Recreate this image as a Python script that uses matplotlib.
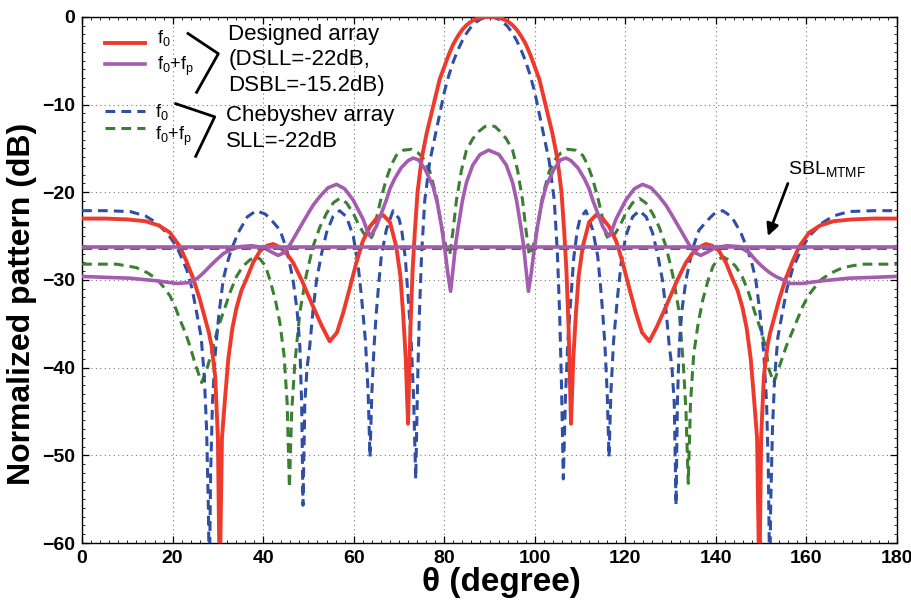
import matplotlib
matplotlib.use("Agg")
import matplotlib.pyplot as plt
from matplotlib.ticker import MultipleLocator

plt.rcParams['font.family'] = ['Liberation Sans', 'DejaVu Sans']
plt.rcParams['mathtext.default'] = 'regular'

# ---------------- data ----------------
# Designed array, f0 (red)
red_theta = [0, 5, 10, 14, 17, 19.4, 21.6, 23, 24.6, 26, 26.8, 28, 28.6, 29.4, 30.0, 30.4, 30.9, 31.5, 32.3, 33.2,
             34.1, 35.2, 36.3, 37.8, 39.3, 40.8, 42.2, 43.8, 45.2, 46.6, 48.5, 51, 53, 54.7, 56.3, 57.7, 59.2, 60.6,
             62, 63.6, 65, 66.5, 68, 69.4, 70.3, 70.9, 71.5, 72.0, 72.5, 73.0, 73.5, 74.1, 75, 76.1, 77.5, 79, 80,
             81, 82, 83, 84, 85, 86, 87, 88, 89, 90,
             91, 92, 93, 94, 95, 96, 97, 98, 99, 100, 101, 102.5, 103.9, 105, 105.9, 106.5, 107, 107.5, 108, 108.5,
             109.1, 109.7, 110.6,
             112, 113.5, 115, 116.4, 118, 119.4, 120.8, 122.3, 123.7, 125.3, 127, 129, 131.5, 133.4, 134.8, 136.2,
             137.8, 139.2, 140.7, 142.2, 143.7, 144.8, 145.9, 146.8, 147.7, 148.5, 149.1, 149.6, 150, 150.6, 151.4,
             152, 153.2, 154, 155.4, 157, 158.4, 160.6, 163, 166, 170, 175, 180]
red_db = [-23.0, -23.0, -23.1, -23.3, -23.8, -24.6, -26.2, -27.8, -29.9, -32.2, -33.7, -36.0, -37.5, -41, -48, -65,
          -48, -44, -39, -35.5, -33.2, -31.2, -29.9, -28, -26.7, -26.1, -25.9, -26.3, -27.0, -28, -30, -33, -35.3,
          -37, -36, -33.7, -30.8, -28, -25.6, -23.9, -23.0, -22.6, -23.4, -26.2, -29.5, -33.7, -39, -46.4, -36, -29,
          -24.5, -20, -16.2, -13.3, -10.3, -7.1, -5.7, -4.3, -3.1, -2.2, -1.45, -0.9, -0.5, -0.25, -0.1, -0.02, 0,
          -0.02, -0.1, -0.25, -0.5, -0.9, -1.45, -2.2, -3.1, -4.3, -5.7, -7.1, -10.3, -13.3, -16.2, -20, -24.5, -29,
          -36, -46.4, -39, -33.7, -29.5, -26.2,
          -23.4, -22.6, -23.0, -23.9, -25.6, -28, -30.8, -33.7, -36, -37, -35.3, -33, -30, -28, -27.0, -26.3,
          -25.9, -26.1, -26.7, -28, -29.9, -31.2, -33.2, -35.5, -39, -44, -48, -65, -48, -41, -37.5, -36, -33.7,
          -32.2, -29.9, -27.8, -26.2, -24.6, -23.8, -23.3, -23.1, -23.0, -23.0]

# Designed array, f0+fp (purple)
pur_theta = [0, 5, 10.6, 16.5, 20.9, 23.8, 25.5, 26.8, 28.3, 29.7, 31.2, 32.6, 34.9, 37.5, 40, 41.8, 43.3, 44.6,
             45.9, 47.8, 49.6, 51, 52.5, 54.3, 56.2, 58, 59.9, 61, 62.1, 63, 63.6, 64.2, 65, 66.1, 67.2, 68, 69.1,
             70.5, 72, 73.1, 74.3, 75.8, 77.5, 78.5, 79.4, 80.2, 80.8, 81.4, 82.0, 82.5, 83.1, 84, 84.9, 86.3, 87.9,
             89.8,
             92.1, 93.7, 95.1, 96, 96.9, 97.5, 98.0, 98.6, 99.2, 99.8, 100.6, 101.5, 102.5, 104.2, 105.7, 106.9, 108,
             109.5, 110.9, 112, 112.8, 113.9, 115, 115.8, 116.4, 117, 117.9, 119, 120.1, 122, 123.8, 125.7, 127.5,
             129, 130.4, 132.2, 134.1, 135.4, 136.7, 138.2, 140, 142.5, 145.1, 147.4, 148.9, 150.3, 151.7, 153.2,
             154.5, 156.3, 159.1, 163.5, 169.4, 175, 180]
pur_db = [-29.6, -29.7, -29.8, -30.1, -30.4, -30.3, -29.8, -29.2, -28.4, -27.7, -27.0, -26.6, -26.2, -26.1, -26.3,
          -26.8, -27.2, -26.9, -26.0, -24.3, -22.7, -21.5, -20.5, -19.5, -19.1, -19.6, -20.9, -22.0, -23.1, -24.4,
          -25.0, -24.6, -23.9, -22.4, -20.9, -19.6, -18.4, -17.2, -16.4, -16.1, -16.3, -17.4, -19.3, -21.3, -23.9,
          -26.8, -29.3, -31.3, -28.5, -26.0, -23.9, -21.0, -18.9, -16.9, -15.7, -15.2,
          -15.7, -16.9, -18.9, -21.0, -23.9, -26.0, -28.5, -31.3, -29.3, -26.8, -23.9, -21.3, -19.3, -17.4, -16.3,
          -16.1, -16.4, -17.2, -18.4, -19.6, -20.9, -22.4, -23.9, -24.6, -25.0, -24.4, -23.1, -22.0, -20.9, -19.6,
          -19.1, -19.5, -20.5, -21.5, -22.7, -24.3, -26.0, -26.9, -27.2, -26.8, -26.3, -26.1, -26.2, -26.9, -27.8,
          -28.5, -29.1, -29.6, -29.9, -30.4, -30.4, -30.1, -29.8, -29.7, -29.6]

# Chebyshev array, f0 (blue dashed)
blu_theta = [0, 5, 10.6, 14, 16.5, 19, 20.9, 23.1, 24.3, 25.3, 26.3, 27.0, 27.5, 27.9, 28.1, 28.4, 28.8, 29.4, 30.2,
             31.2, 32.1, 33, 34.5, 36.5, 38.5, 40.5, 42.2, 43.7, 45.2, 46.6, 47.5, 48.1, 48.5, 48.8, 49.2, 49.7, 50.3,
             51, 51.8, 52.9, 54, 55.4, 56.9, 58.4, 59.9, 60.9, 61.7, 62.6, 63.2, 63.6, 64.0, 64.5, 65, 65.6, 66.1,
             67.2, 68.7, 70.0, 70.6, 71.4, 72, 72.7, 73.2, 73.7, 74.1, 74.5, 75, 75.7, 76.8, 78.1, 79.1, 80, 81, 82,
             83, 84, 85, 86, 87, 88, 89, 90,
             91, 92, 93, 94, 95, 96, 97, 98, 99, 100, 100.9, 101.9, 103.2, 104.3, 105, 105.5, 105.9, 106.3, 106.8,
             107.3, 108, 108.6,
             109.4, 110, 111.3, 112.8, 113.9, 114.4, 115, 115.5, 116, 116.4, 116.8, 117.4, 118.3, 119.1, 120.1, 121.6,
             123.1, 124.6, 126, 127.1, 128.2, 129, 129.7, 130.3, 130.8, 131.2, 131.5, 131.9, 132.5, 133.4, 134.8,
             136.3, 137.8, 139.5, 141.5, 143.5, 145.5, 147, 147.9, 148.8, 149.8, 150.6, 151.2, 151.6, 151.9, 152.1,
             152.5, 153, 153.7, 154.7, 155.7, 156.9, 159.1, 161, 163.5, 166, 169.4, 175, 180]
blu_db = [-22.1, -22.1, -22.2, -22.7, -23.5, -24.8, -26.2, -28.8, -31, -33.7, -36.5, -41, -47, -56, -65, -52, -44,
          -38.5, -34, -29.9, -28, -26.5, -24.6, -22.8, -22.1, -22.5, -23.4, -24.3, -26.5, -30, -33.5, -37.5, -44,
          -55.7, -44, -40, -37.5, -33.5, -30, -27, -24.6, -22.8, -22.1, -22.8, -25, -28, -31.8, -37, -43, -50.2, -43,
          -37.5, -33.7, -30, -27.3, -24.3, -22.1, -23.0, -24.3, -27.5, -31.8, -37, -43, -52.7, -42, -34, -27, -20.9,
          -16.5, -13.3, -10.8, -8.6, -6.7, -5.1, -3.8, -2.7, -1.8, -1.1, -0.6, -0.27, -0.07, 0,
          -0.07, -0.27, -0.6, -1.1, -1.8, -2.7, -3.8, -5.1, -6.7, -8.6, -10.8, -13.3, -16.5, -20.9, -27, -34, -42,
          -52.7, -43, -37, -31.8, -27.5,
          -24.3, -23.0, -22.1, -24.3, -27.3, -30, -33.7, -37.5, -43, -50.2, -43, -37, -31.8, -28, -25, -22.8, -22.1,
          -22.8, -24.6, -27, -30, -33.5, -37.5, -40, -44, -55.7, -44, -37.5, -33.5, -30, -26.5, -24.3, -23.4, -22.5,
          -22.1, -22.8, -24.6, -26.5, -28, -29.9, -34, -38.5, -44, -52, -65, -56, -47, -41, -36.5, -33.7, -31,
          -28.8, -26.2, -24.8, -23.5, -22.7, -22.2, -22.1, -22.1]

# Chebyshev array, f0+fp (green dashed)
grn_theta = [0, 5, 7.6, 10, 12, 14.5, 16.5, 18, 19.4, 20.5, 21.6, 22.8, 23.8, 25, 26.4, 27.5, 29, 30, 31.2, 32.7,
             34.1, 35.6, 37.1, 38.2, 39.3, 40.5, 41.5, 42.7, 43.7, 44.6, 45.3, 45.8, 46.3, 47, 48.1, 49.5, 51, 52.5,
             54, 55.5, 56.9, 58.4, 59.9, 61, 62.1, 63.0, 63.6, 64.3, 65, 66, 67.2, 68.3, 69.4, 71, 72.8, 74.2, 75.3,
             76.8, 78.3, 79.4, 80.5, 81.2, 81.9, 82.7, 83.8, 84.9, 86.3, 87.8, 89, 90.2,
             91.2, 92.2, 93.7, 95.1, 96.2, 97.3, 98.1, 98.8, 99.5, 100.6, 101.7, 103.2, 104.7, 105.8, 107.2, 109,
             110.6, 111.7, 112.8, 114, 115, 115.7, 116.4, 117, 117.9, 119, 120.1, 121.6, 123.1, 124.5, 126, 127.5,
             129, 130.5, 131.9, 132.8, 133.4, 133.9, 134.4, 135.1, 136.1, 137.1, 138.3, 139.4, 140.6, 141.7, 142.8,
             144.3, 145.8, 147.2, 148.6, 149.8, 150.9, 151.8, 152.8, 154.2, 155.6, 156.8, 158, 159.2, 160.4, 161.9,
             163.4, 165.5, 168, 170, 172.4, 175, 180]
grn_db = [-28.2, -28.2, -28.2, -28.4, -28.6, -29.2, -29.9, -30.8, -31.8, -33.0, -34.5, -36.0, -37.5, -39.6, -41.7,
          -40.3, -37.5, -35.5, -33.7, -31.4, -29.6, -28.4, -27.7, -27.4, -27.6, -28.4, -30, -32.3, -34.9, -38.5, -44,
          -53.7, -45, -39.5, -33.7, -29.5, -26.2, -24, -22.4, -21.2, -20.7, -21.2, -22.4, -23.6, -24.6, -25.2, -25.4,
          -24.8, -23.0, -20.8, -18.5, -16.9, -15.8, -15.2, -15.1, -15.5, -16.1, -17.6, -20.5, -23.9, -26.5, -27.2,
          -24.5, -20.9, -17.5, -15.2, -13.9, -13.0, -12.5, -12.4,
          -12.5, -13.0, -13.9, -15.2, -17.5, -20.9, -24.5, -27.2, -26.5, -23.9, -20.5, -17.6, -16.1, -15.5, -15.1,
          -15.2, -15.8, -16.9, -18.5, -20.8, -23.0, -24.8, -25.4, -25.2, -24.6, -23.6, -22.4, -21.2, -20.7, -21.2,
          -22.4, -24, -26.2, -29.5, -33.7, -39.5, -45, -53.2, -44, -38.5, -34.9, -32.3, -30, -28.4, -27.6, -27.4,
          -27.7, -28.4, -29.6, -31.4, -33.7, -35.5, -37.5, -40.3, -41.7, -39.6, -37.5, -36.0, -34.5, -33.0, -31.8,
          -30.8, -29.9, -29.2, -28.6, -28.4, -28.2, -28.2, -28.2]

# SBL levels (horizontal lines)
sbl_designed = -26.2
sbl_cheby = -26.4

x_ticks = [0, 20, 40, 60, 80, 100, 120, 140, 160, 180]
y_ticks = [-60, -50, -40, -30, -20, -10, 0]

# ---------------- colours ----------------
C_RED = '#EE3A2C'
C_PUR = '#A45CB0'
C_BLU = '#2F4FA6'
C_GRN = '#3B7F33'

fig = plt.figure(figsize=(9.12, 6.03), dpi=100)
ax = fig.add_axes([0.090, 0.0995, 0.8935, 0.8725])

dash = (3.2, 2.0)
ax.plot(grn_theta, grn_db, color=C_GRN, lw=2.2, dashes=dash, zorder=3)
ax.plot(blu_theta, blu_db, color=C_BLU, lw=2.2, dashes=dash, zorder=4)
ax.plot(red_theta, red_db, color=C_RED, lw=2.8, zorder=5)
ax.plot(pur_theta, pur_db, color=C_PUR, lw=2.6, zorder=5)
ax.axhline(sbl_cheby, color=C_GRN, lw=2.2, dashes=dash, zorder=6)
ax.axhline(sbl_designed, color=C_PUR, lw=2.6, zorder=6)

ax.set_xlim(0, 180)
ax.set_ylim(-60, 0)
ax.set_xticks(x_ticks)
ax.set_yticks(y_ticks)
ax.xaxis.set_minor_locator(MultipleLocator(2))
ax.yaxis.set_minor_locator(MultipleLocator(1))
ax.tick_params(which='both', direction='in', top=True, right=True)
ax.tick_params(which='major', length=5, width=0.9, labelsize=14, pad=5)
ax.tick_params(which='minor', length=2.5, width=0.6)
for lab in ax.get_xticklabels() + ax.get_yticklabels():
    lab.set_fontweight('bold')
ax.grid(True, which='major', color='#777777', linestyle=(0, (1, 3)), lw=0.8)
for sp in ax.spines.values():
    sp.set_linewidth(1.0)

ax.set_xlabel('θ (degree)', fontsize=24, fontweight='bold')
ax.xaxis.set_label_coords(0.514, -0.045, transform=ax.transAxes)
ax.xaxis.label.set_va('top')
ax.set_ylabel('Normalized pattern (dB)', fontsize=23, fontweight='bold')
ax.yaxis.set_label_coords(-0.074, 0.455, transform=ax.transAxes)
ax.yaxis.label.set_va('center')

# ---------------- custom legend ----------------
ax.plot([5.1, 13.9], [-3.0, -3.0], color=C_RED, lw=2.8, clip_on=False, zorder=7)
ax.plot([5.1, 13.9], [-5.4, -5.4], color=C_PUR, lw=2.6, clip_on=False, zorder=7)
ax.plot([5.1, 13.9], [-10.7, -10.7], color=C_BLU, lw=2.2, dashes=dash, zorder=7)
ax.plot([5.1, 13.9], [-12.7, -12.7], color=C_GRN, lw=2.2, dashes=dash, zorder=7)

fs_leg = 16
ax.text(16.6, -2.4, 'f$_0$', fontsize=13, va='center', ha='left')
ax.text(16.6, -5.6, 'f$_0$+f$_p$', fontsize=13, va='center', ha='left')
ax.plot([23.4, 30.1, 25.3], [-1.9, -4.2, -8.6], color='black', lw=2.0, zorder=7)
ax.text(32.3, -2.0, 'Designed array', fontsize=fs_leg, va='center', ha='left')
ax.text(32.3, -4.9, '(DSLL=-22dB,', fontsize=fs_leg, va='center', ha='left')
ax.text(32.3, -7.8, 'DSBL=-15.2dB)', fontsize=fs_leg, va='center', ha='left')

ax.text(16.0, -10.9, 'f$_0$', fontsize=13, va='center', ha='left')
ax.text(16.0, -13.6, 'f$_0$+f$_p$', fontsize=13, va='center', ha='left')
ax.plot([20.7, 29.3, 25.1], [-9.9, -11.4, -15.9], color='black', lw=2.0, zorder=7)
ax.text(31.8, -11.3, 'Chebyshev array', fontsize=fs_leg, va='center', ha='left')
ax.text(31.8, -14.2, 'SLL=-22dB', fontsize=fs_leg, va='center', ha='left')

# ---------------- SBL annotation ----------------
ax.text(156.0, -17.3, 'SBL$_{MTMF}$', fontsize=14, va='center', ha='left')
ax.annotate('', xy=(151.5, -25.0), xytext=(155.9, -19.0),
            arrowprops=dict(arrowstyle='-|>', color='black', lw=2.0,
                            mutation_scale=18, shrinkA=0, shrinkB=0))

fig.savefig('out.png', dpi=100)
